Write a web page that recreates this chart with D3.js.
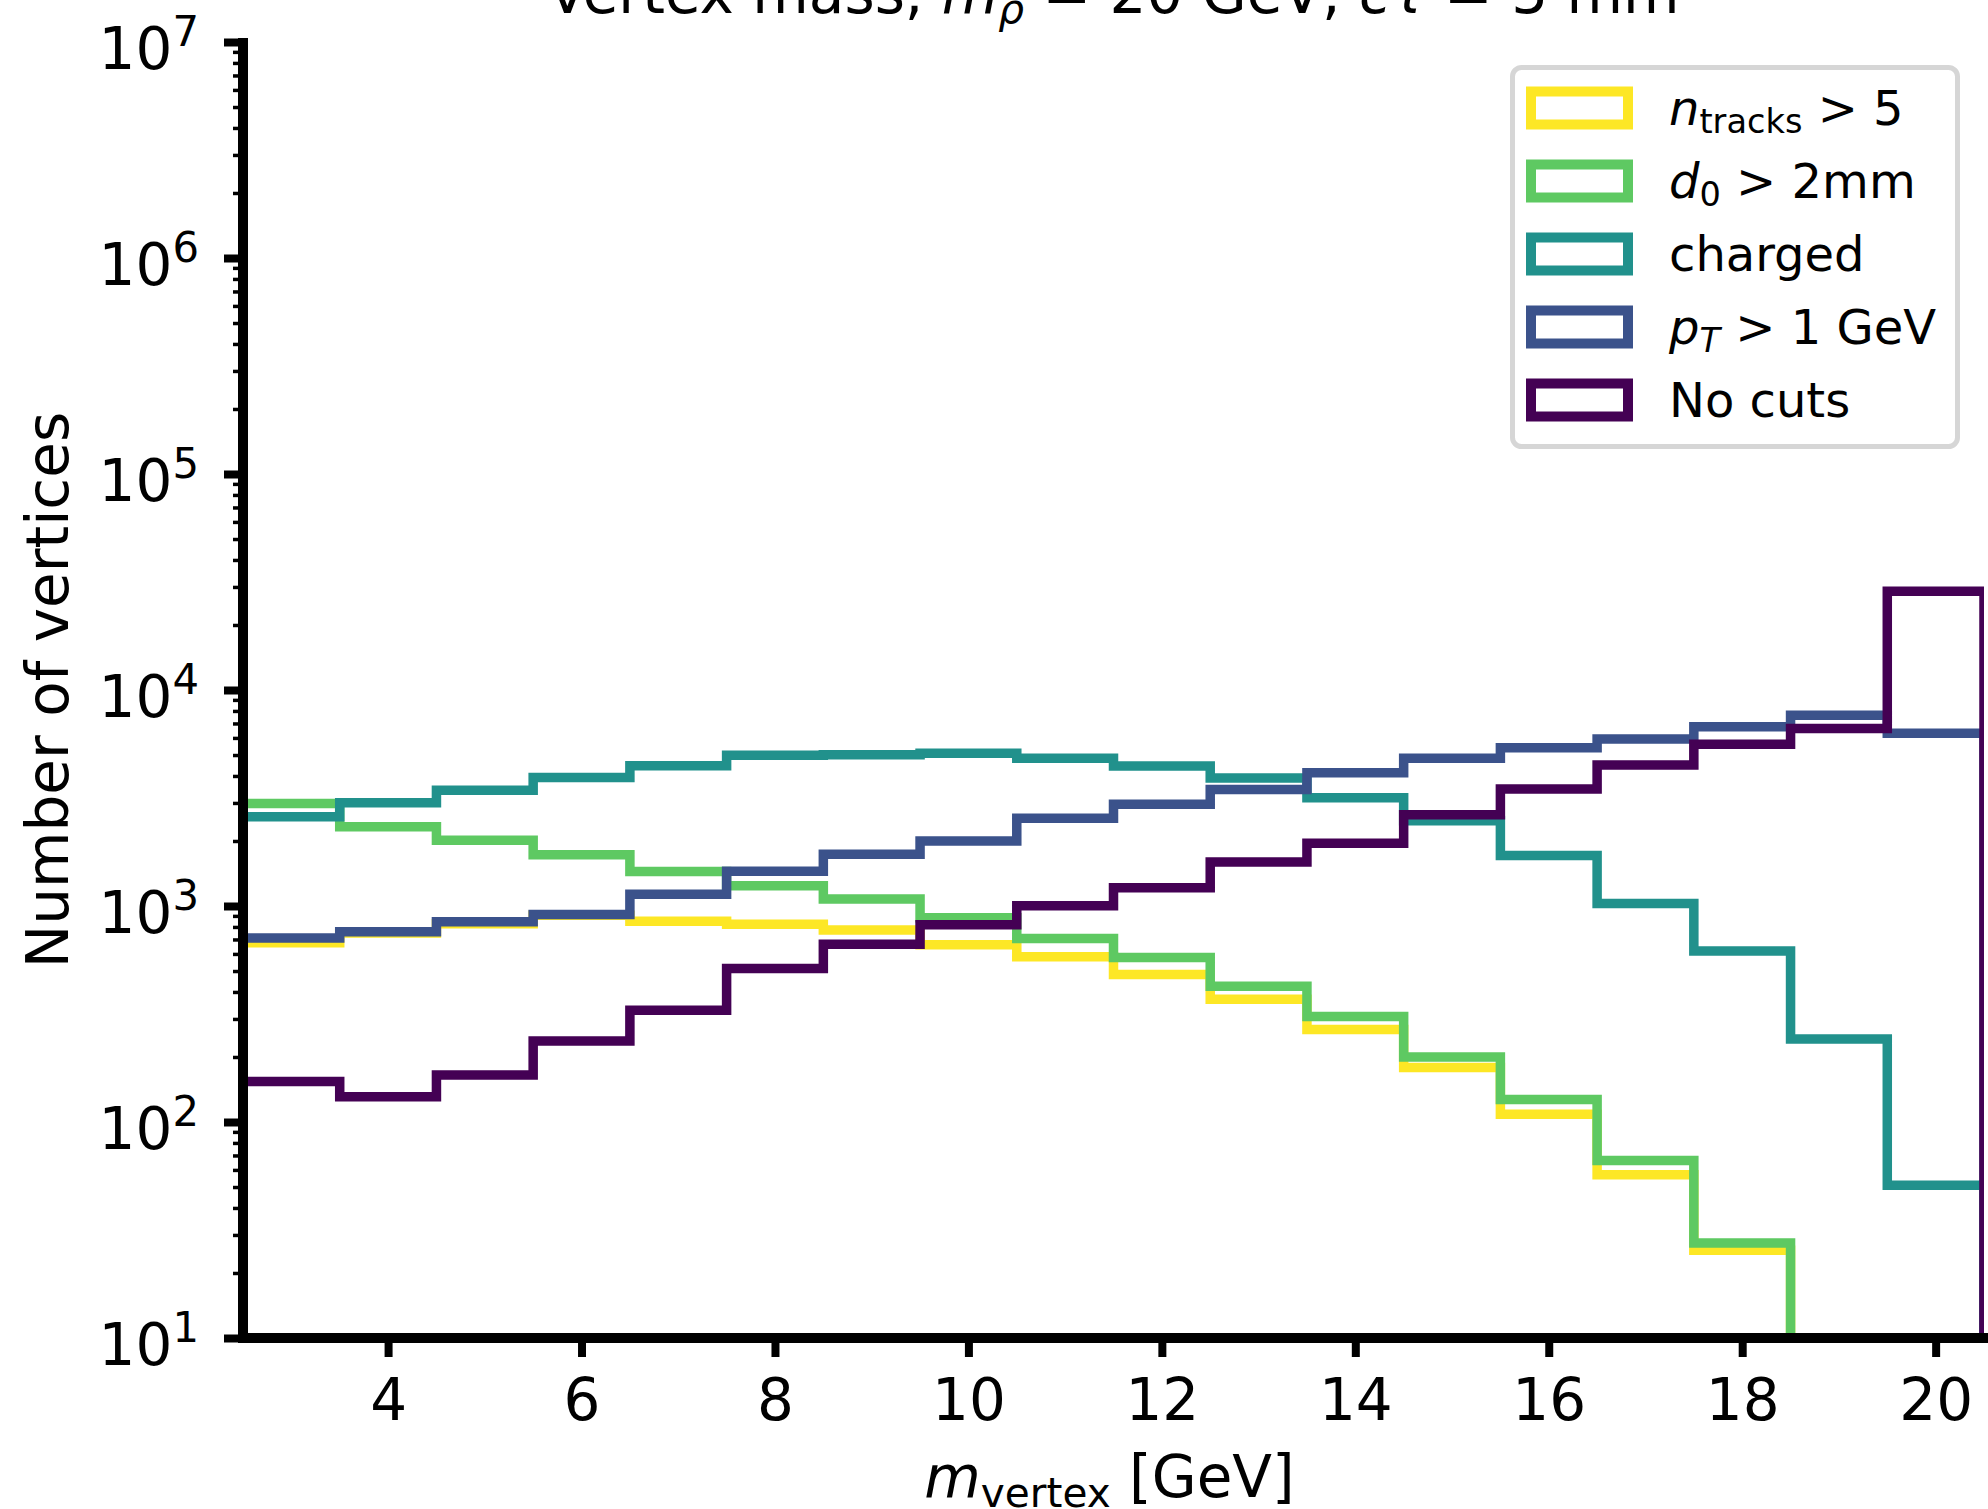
<!DOCTYPE html>
<html>
<head>
<meta charset="utf-8">
<script src="https://cdn.jsdelivr.net/npm/d3@7"></script>
<style>
  html, body { margin: 0; padding: 0; background: #ffffff; }
  svg { display: block; }
  text { font-family: "DejaVu Sans", sans-serif; fill: #000; }
</style>
</head>
<body>
<svg id="chart" width="1988" height="1509"></svg>
<script>
// ---------------- data ----------------
const binEdges = [2.5, 3.5, 4.5, 5.5, 6.5, 7.5, 8.5, 9.5, 10.5, 11.5, 12.5, 13.5, 14.5, 15.5, 16.5, 17.5, 18.5, 19.5, 20.5];
const binCenters = [3, 4, 5, 6, 7, 8, 9, 10, 11, 12, 13, 14, 15, 16, 17, 18, 19, 20];

const nTracksCounts = [676, 750, 828, 905, 851, 824, 774, 662, 582, 482, 370, 268, 179, 108.6, 57, 25.5, 0, 0];
const d0Counts      = [2983, 2327, 2018, 1727, 1445, 1241, 1077, 883, 708, 577, 425, 308, 200, 127, 66.4, 27.5, 0, 0];
const chargedCounts = [2588, 3006, 3436, 3936, 4456, 4985, 5010, 5100, 4830, 4446, 3910, 3170, 2480, 1711, 1026, 619, 242, 51];
const pTCounts      = [711, 759, 845, 914, 1132, 1448, 1734, 2000, 2547, 2957, 3460, 4140, 4830, 5400, 5930, 6760, 7640, 6310];
const noCutsCounts  = [154, 131, 165, 237, 329, 513, 665, 819, 1002, 1216, 1600, 1950, 2648, 3484, 4490, 5610, 6640, 28650];

const seriesKeys   = ["ntracks", "d0", "charged", "pT", "nocuts"];
const seriesColors = ["#fde725", "#5ec962", "#21918c", "#3b528b", "#440154"];

const xTickValues   = [4, 6, 8, 10, 12, 14, 16, 18, 20];
const yTickExponents = [1, 2, 3, 4, 5, 6, 7];

const titleParts = [
  {t: "Vertex mass, ", s: "normal"},
  {t: "m", s: "italic"},
  {t: "ρ", s: "italic", sub: true},
  {t: " = 20 GeV, ", s: "normal"},
  {t: "cτ", s: "italic"},
  {t: " = 5 mm", s: "normal"}
];
const xLabelParts = [
  {t: "m", s: "italic"},
  {t: "vertex", s: "normal", sub: true},
  {t: " [GeV]", s: "normal"}
];
const yLabelText = "Number of vertices";
const legendLabels = [
  [{t: "n", s: "italic"}, {t: "tracks", s: "normal", sub: true}, {t: " > 5", s: "normal"}],
  [{t: "d", s: "italic"}, {t: "0", s: "normal", sub: true}, {t: " > 2mm", s: "normal"}],
  [{t: "charged", s: "normal"}],
  [{t: "p", s: "italic"}, {t: "T", s: "italic", sub: true}, {t: " > 1 GeV", s: "normal"}],
  [{t: "No cuts", s: "normal"}]
];

// ---------------- layout ----------------
const svg = d3.select("#chart");
const L = 243, R = 1984, T = 42, B = 1338;
const x = d3.scaleLinear().domain([2.5, 20.5]).range([L, R]);
const y = d3.scaleLog().domain([10, 1e7]).range([B, T]);
const FLOOR = 1; // zero-count bins drop below the axes (clipped)

svg.append("rect").attr("width", 1988).attr("height", 1509).attr("fill", "#fff");

svg.append("defs").append("clipPath").attr("id", "axclip")
  .append("rect").attr("x", L).attr("y", T).attr("width", R - L).attr("height", B - T);

// ---------------- histograms (step) ----------------
const seriesData = [nTracksCounts, d0Counts, chargedCounts, pTCounts, noCutsCounts];
const line = d3.line().x(d => x(d[0])).y(d => y(d[1] > 0 ? d[1] : FLOOR));
const gData = svg.append("g").attr("clip-path", "url(#axclip)");
seriesData.forEach((vals, k) => {
  const pts = [[binEdges[0], FLOOR]];
  vals.forEach((v, i) => {
    pts.push([binEdges[i], v]);
    pts.push([binEdges[i + 1], v]);
  });
  pts.push([binEdges[binEdges.length - 1], FLOOR]);
  gData.append("path")
    .attr("d", line(pts))
    .attr("fill", "none")
    .attr("stroke", seriesColors[k])
    .attr("stroke-width", 9.5)
    .attr("stroke-linejoin", "miter")
    .attr("stroke-linecap", "butt");
});

// ---------------- axes ----------------
const FS = 58;
// y minor ticks
const yMinor = [];
for (let e = 1; e < 7; e++) for (let m = 2; m <= 9; m++) yMinor.push(m * Math.pow(10, e));
const gyMinor = svg.append("g").attr("transform", `translate(${L},0)`)
  .call(d3.axisLeft(y).tickValues(yMinor).tickSize(10).tickFormat(""));
gyMinor.select(".domain").remove();
gyMinor.selectAll("line").attr("stroke", "#000").attr("stroke-width", 3.5);

// y major ticks
const yMajor = yTickExponents.map(e => Math.pow(10, e));
const gyMajor = svg.append("g").attr("transform", `translate(${L},0)`)
  .call(d3.axisLeft(y).tickValues(yMajor).tickSize(19).tickFormat(""));
gyMajor.select(".domain").remove();
gyMajor.selectAll("line").attr("stroke", "#000").attr("stroke-width", 8);
gyMajor.selectAll(".tick").each(function(d, i) {
  const t = d3.select(this).append("text")
    .attr("x", 199 - L).attr("y", 26)
    .attr("text-anchor", "end")
    .attr("font-size", FS)
    .attr("fill", "#000");
  t.append("tspan").text("10");
  t.append("tspan").attr("font-size", FS * 0.72).attr("dy", -23).text(String(yTickExponents[i]));
});

// x major ticks
const gx = svg.append("g").attr("transform", `translate(0,${B})`)
  .call(d3.axisBottom(x).tickValues(xTickValues).tickSize(19).tickFormat(d3.format("d")));
gx.select(".domain").remove();
gx.selectAll("line").attr("stroke", "#000").attr("stroke-width", 8);
gx.selectAll("text")
  .attr("y", 82).attr("dy", null)
  .attr("font-size", FS)
  .attr("font-family", "DejaVu Sans")
  .attr("fill", "#000");

// spines
svg.append("line").attr("x1", L).attr("x2", L).attr("y1", T - 4).attr("y2", B + 5)
  .attr("stroke", "#000").attr("stroke-width", 10);
svg.append("line").attr("x1", L - 5).attr("x2", 1988).attr("y1", B).attr("y2", B)
  .attr("stroke", "#000").attr("stroke-width", 10);

// ---------------- text helper ----------------
function richText(sel, parts, fs, subShift) {
  let shifted = false;
  parts.forEach(p => {
    const ts = sel.append("tspan").text(p.t).attr("font-style", p.s === "italic" ? "italic" : "normal");
    if (p.sub) {
      ts.attr("font-size", fs * 0.7).attr("dy", subShift);
      shifted = true;
    } else if (shifted) {
      ts.attr("dy", -subShift);
      shifted = false;
    }
  });
}

// title
const title = svg.append("text")
  .attr("x", (L + R) / 2).attr("y", 13)
  .attr("text-anchor", "middle").attr("font-size", FS);
richText(title, titleParts, FS, 10);

// x label
const xl = svg.append("text")
  .attr("x", (L + R) / 2 - 4).attr("y", 1497)
  .attr("text-anchor", "middle").attr("font-size", FS);
richText(xl, xLabelParts, FS, 10);

// y label
svg.append("text")
  .attr("transform", `translate(68,${(T + B) / 2}) rotate(-90)`)
  .attr("text-anchor", "middle").attr("font-size", FS)
  .text(yLabelText);

// ---------------- legend ----------------
const lg = svg.append("g");
lg.append("rect")
  .attr("x", 1512.5).attr("y", 67.5).attr("width", 445).attr("height", 379)
  .attr("rx", 9).attr("ry", 9)
  .attr("fill", "#fff").attr("fill-opacity", 0.8)
  .attr("stroke", "#d6d6d6").attr("stroke-width", 5);
const rowY = d3.scaleLinear().domain([0, 4]).range([108, 400]);
legendLabels.forEach((parts, i) => {
  const cy = rowY(i);
  lg.append("rect")
    .attr("x", 1531).attr("y", cy - 16.5).attr("width", 97).attr("height", 33)
    .attr("fill", "none").attr("stroke", seriesColors[i]).attr("stroke-width", 10)
    .attr("stroke-linejoin", "miter");
  const t = lg.append("text").attr("x", 1669).attr("y", cy + 17).attr("font-size", 48);
  richText(t, parts, 48, 8);
});
</script>
</body>
</html>
